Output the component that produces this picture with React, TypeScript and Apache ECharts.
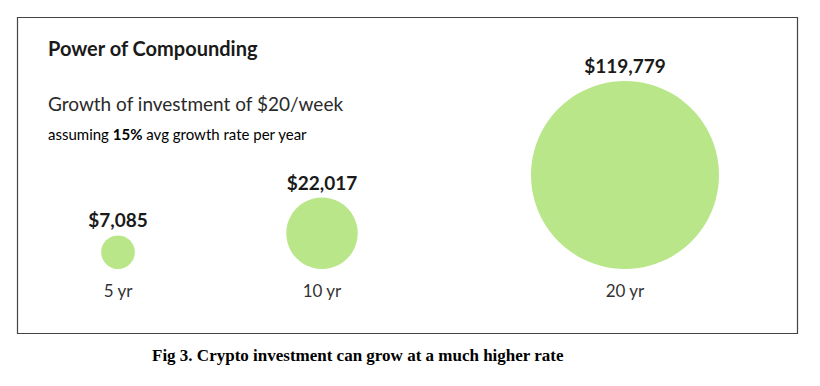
import React, { useEffect, useRef } from "react";
import * as echarts from "echarts";

const periods = ["5 yr", "10 yr", "20 yr"];
const totals = [7085, 22017, 119779];

const titleText = "Power of Compounding";
const subtitleText = "Growth of investment of $20/week";
const noteBefore = "assuming ";
const noteRate = "15%";
const noteAfter = " avg growth rate per year";
const captionText = "Fig 3. Crypto investment can grow at a much higher rate";

const centersX = [118, 322, 625];
const baselineY = 269;
const H = 386;
const W = 820;
const FONT = "Lato, 'Open Sans', sans-serif";

// circle diameter grows with the square root of the value (area-like scaling)
const diameter = (v: number) => 0.5895 * Math.sqrt(v) - 16;

export default function App() {
  const ref = useRef<HTMLDivElement>(null);
  useEffect(() => {
    if (!ref.current) return;
    const chart = echarts.init(ref.current, undefined, { renderer: "svg" });
    const grids: any[] = [];
    const xAxes: any[] = [];
    const yAxes: any[] = [];
    const series: any[] = [];
    periods.forEach((p, i) => {
      grids.push({ left: centersX[i] - 60, width: 120, top: 40, bottom: H - baselineY, containLabel: false });
      xAxes.push({
        type: "category",
        gridIndex: i,
        data: [p],
        boundaryGap: true,
        axisLine: { show: false },
        axisTick: { show: false },
        splitLine: { show: false },
        axisLabel: { color: "#333", fontSize: 17, fontFamily: FONT, margin: 13 },
      });
      yAxes.push({ type: "value", gridIndex: i, min: 0, max: 1, show: false });
      series.push({
        type: "scatter",
        xAxisIndex: i,
        yAxisIndex: i,
        data: [[p, 0, totals[i]]],
        encode: { x: 0, y: 1 },
        symbol: "circle",
        symbolSize: (val: any) => diameter(val[2]),
        symbolOffset: [0, "-50%"],
        itemStyle: { color: "#b9e689", opacity: 1 },
        label: {
          show: true,
          position: "top",
          distance: 6,
          color: "#1a1a1a",
          fontSize: 19,
          fontWeight: "bold",
          fontFamily: FONT,
          formatter: (pp: any) => "$" + Number(pp.value[2]).toLocaleString("en-US"),
        },
        emphasis: { disabled: true },
      });
    });
    chart.setOption({
      animation: false,
      backgroundColor: "#fff",
      grid: grids,
      xAxis: xAxes,
      yAxis: yAxes,
      series,
      graphic: [
        {
          type: "rect",
          shape: { x: 17.5, y: 17.5, width: 780, height: 316 },
          style: { fill: "none", stroke: "#444", lineWidth: 1.2 },
          silent: true,
        },
        {
          type: "text",
          x: 48,
          y: 48,
          style: {
            text: titleText,
            fill: "#1a1a1a",
            font: `bold 20px ${FONT}`,
            verticalAlign: "middle",
          },
        },
        {
          type: "text",
          x: 48,
          y: 103,
          style: {
            text: subtitleText,
            fill: "#2a2a2a",
            font: `19px ${FONT}`,
            verticalAlign: "middle",
          },
        },
        {
          type: "text",
          x: 48,
          y: 134,
          style: {
            text: `{n|${noteBefore}}{b|${noteRate}}{n|${noteAfter}}`,
            verticalAlign: "middle",
            rich: {
              n: { fontSize: 15, fontFamily: FONT, color: "#2a2a2a" },
              b: { fontSize: 15, fontFamily: FONT, fontWeight: "bold", color: "#1a1a1a" },
            },
          },
        },
        {
          type: "text",
          x: 152,
          y: 355,
          style: {
            text: captionText,
            fill: "#000",
            font: "bold 17px 'Liberation Serif', 'Times New Roman', serif",
            verticalAlign: "middle",
          },
        },
      ],
    });
    return () => chart.dispose();
  }, []);
  return (
    <div
      ref={ref}
      style={{ position: "fixed", left: 0, top: 0, width: W, height: H, background: "#fff" }}
    />
  );
}
